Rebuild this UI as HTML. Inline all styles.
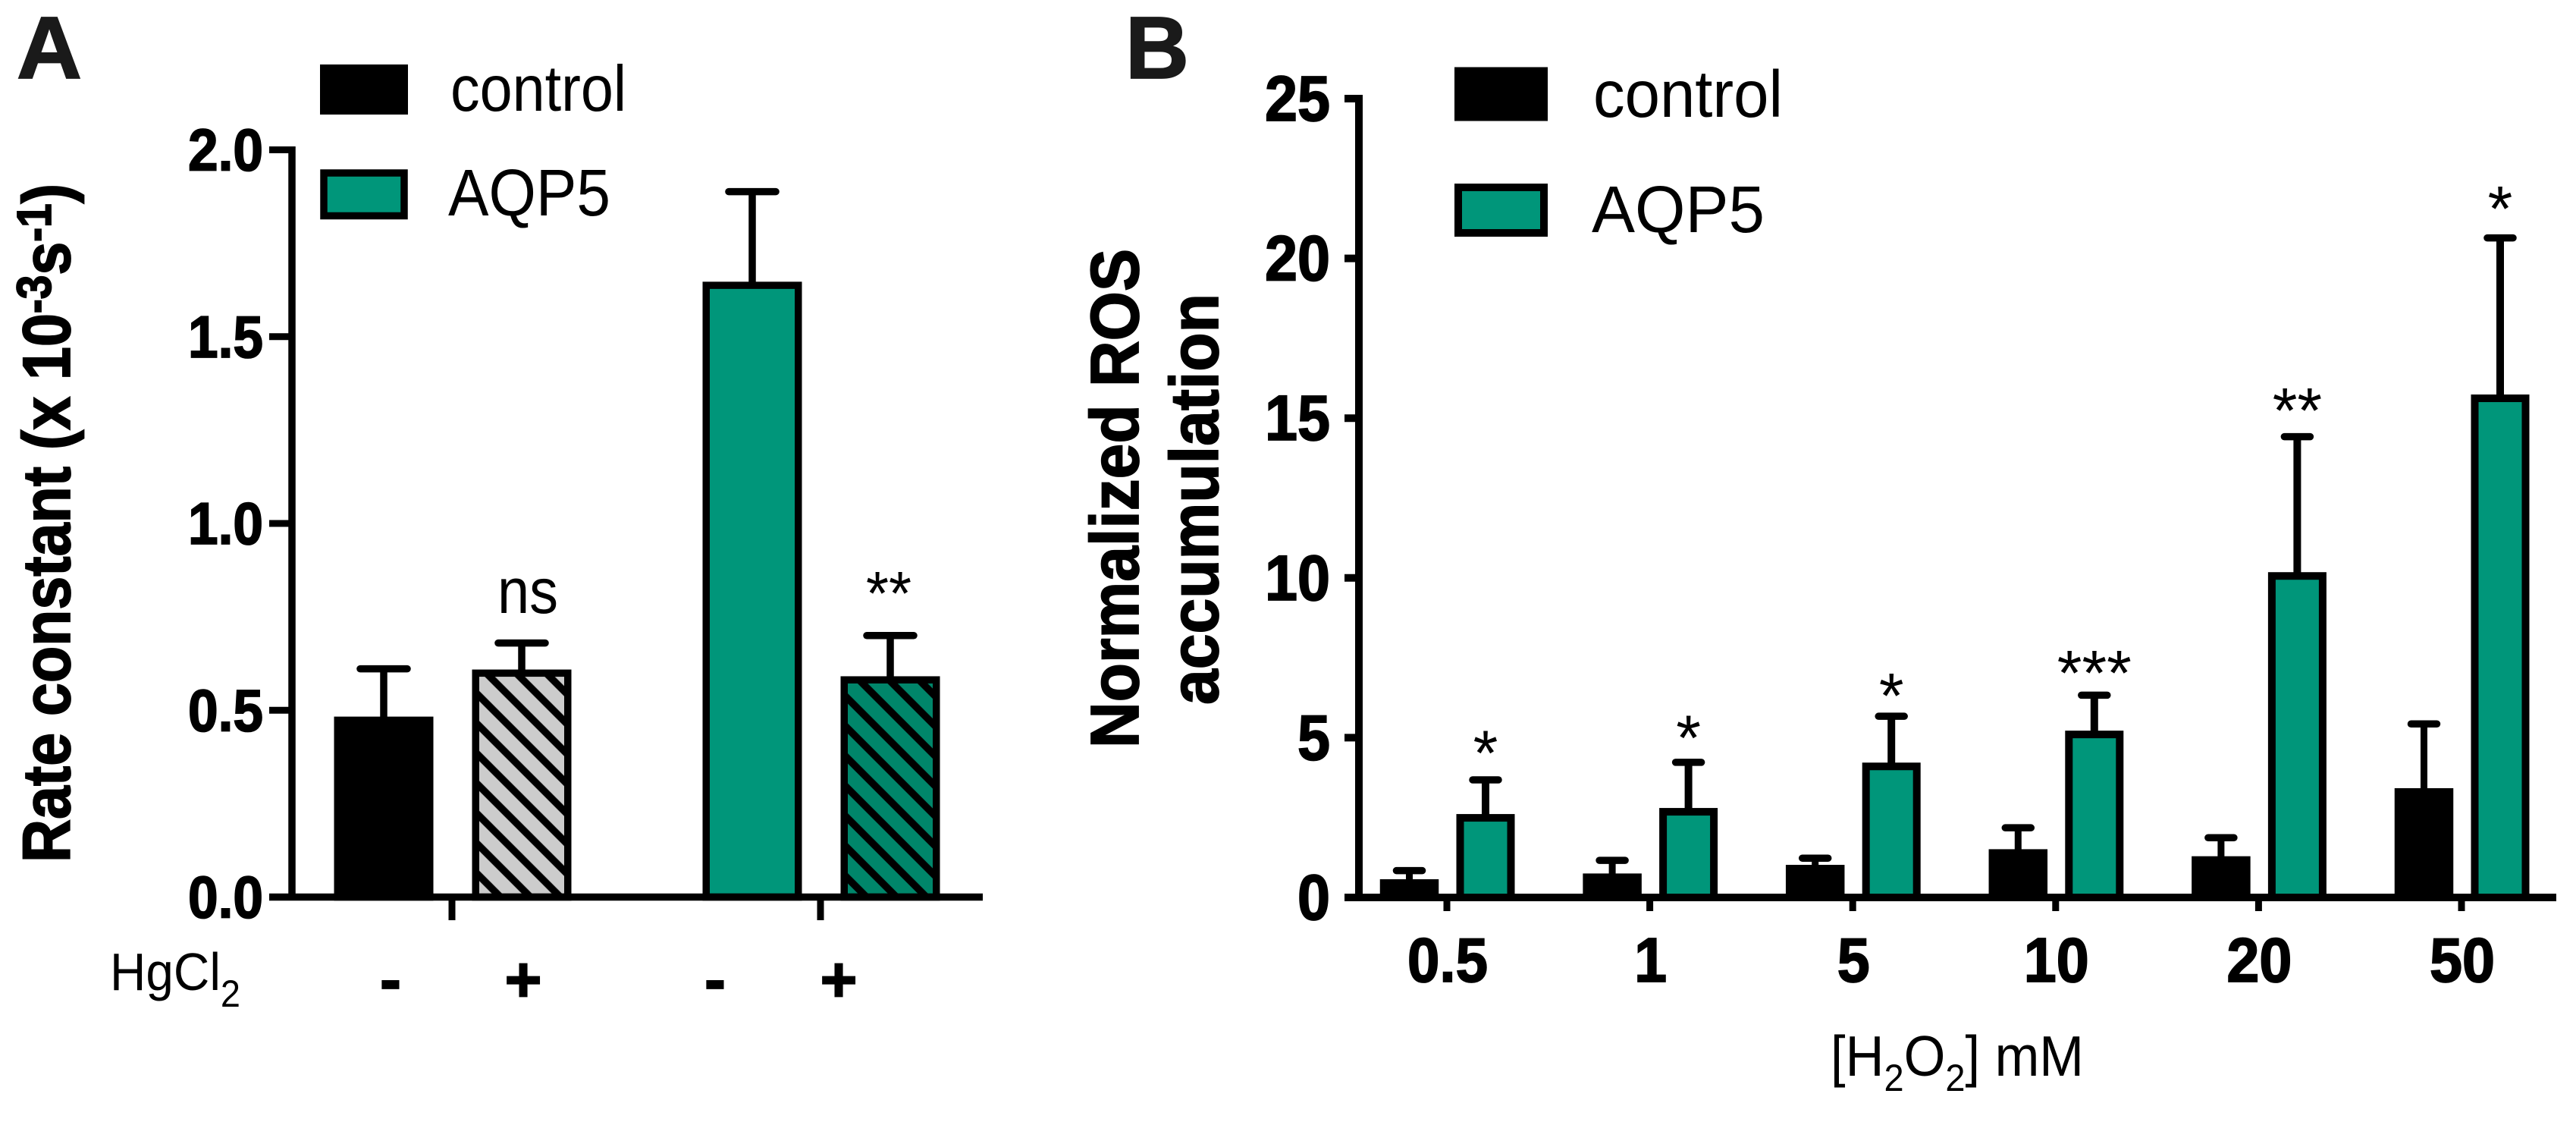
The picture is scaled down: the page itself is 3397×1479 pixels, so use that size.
<!DOCTYPE html>
<html lang="en">
<head>
<meta charset="utf-8">
<title>Rate constant and ROS accumulation bar charts</title>
<style>
html,body{margin:0;padding:0;background:#fff;width:3397px;height:1479px;overflow:hidden}
svg{display:block;font-family:"Liberation Sans",sans-serif}
text[font-weight="bold"]{stroke:#000;stroke-width:1.8px}
</style>
</head>
<body>
<svg id="figure" xmlns="http://www.w3.org/2000/svg" width="3397" height="1479" viewBox="0 0 3397 1479">
  <defs>
    <pattern id="hatch-gray" patternUnits="userSpaceOnUse" x="646.7" y="892.7" width="39.5" height="39.5">
      <rect width="39.5" height="39.5" fill="#cccccc"/>
      <path d="M-10,-10L49.5,49.5M-10,29.5L10,49.5M29.5,-10L49.5,10" stroke="#000" stroke-width="9.5"/>
    </pattern>
    <pattern id="hatch-teal" patternUnits="userSpaceOnUse" x="1136.7" y="900" width="39.5" height="39.5">
      <rect width="39.5" height="39.5" fill="#00866a"/>
      <path d="M-10,-10L49.5,49.5M-10,29.5L10,49.5M29.5,-10L49.5,10" stroke="#000" stroke-width="9.5"/>
    </pattern>
  </defs>

  <g id="panel-a">
    <text x="22" y="103" font-size="116" font-weight="bold" fill="#1a1a1a" style="stroke:#1a1a1a" textLength="86" lengthAdjust="spacingAndGlyphs">A</text>
    <text transform="translate(92,1137) rotate(-90)" font-size="89" font-weight="bold" fill="#000" textLength="895" lengthAdjust="spacingAndGlyphs">Rate constant (x 10<tspan dy="-25" font-size="64">-3</tspan><tspan dy="25">s</tspan><tspan dy="-25" font-size="64">-1</tspan><tspan dy="25">)</tspan></text>
    <g>
      <rect x="422" y="85" width="116" height="66" fill="#000"/>
      <text x="594" y="146" font-size="85" fill="#000" textLength="232" lengthAdjust="spacingAndGlyphs">control</text>
      <rect x="427" y="228" width="106" height="56.5" fill="#00967a" stroke="#000" stroke-width="9.5"/>
      <text x="591" y="284" font-size="87" fill="#000" textLength="214" lengthAdjust="spacingAndGlyphs">AQP5</text>
    </g>
    <g id="a-bars"></g>
    <g id="a-axes"></g>
    <text x="145" y="1305" font-size="70" fill="#000" textLength="172" lengthAdjust="spacingAndGlyphs">HgCl<tspan dy="22" font-size="50">2</tspan></text>
  </g>

  <g id="panel-b">
    <text x="1484" y="103" font-size="116" font-weight="bold" fill="#1a1a1a" style="stroke:#1a1a1a" textLength="84" lengthAdjust="spacingAndGlyphs">B</text>
    <text transform="translate(1501,986) rotate(-90)" font-size="90" font-weight="bold" fill="#000" textLength="658" lengthAdjust="spacingAndGlyphs">Normalized ROS</text>
    <text transform="translate(1606,929) rotate(-90)" font-size="90" font-weight="bold" fill="#000" textLength="542" lengthAdjust="spacingAndGlyphs">accumulation</text>
    <g>
      <rect x="1918" y="88.5" width="123" height="71" fill="#000"/>
      <text x="2101" y="154" font-size="87" fill="#000" textLength="250" lengthAdjust="spacingAndGlyphs">control</text>
      <rect x="1923" y="247" width="113" height="60" fill="#00967a" stroke="#000" stroke-width="10"/>
      <text x="2099" y="306" font-size="87" fill="#000" textLength="228" lengthAdjust="spacingAndGlyphs">AQP5</text>
    </g>
    <g id="b-bars"></g>
    <g id="b-axes"></g>
    <text x="2414" y="1418" font-size="75" fill="#000" textLength="334" lengthAdjust="spacingAndGlyphs">[H<tspan dy="20" font-size="50">2</tspan><tspan dy="-20">O</tspan><tspan dy="20" font-size="50">2</tspan><tspan dy="-20">] mM</tspan></text>
  </g>
</svg>
<script>
// Panel A data
const aTickLabels = ['0.0', '0.5', '1.0', '1.5', '2.0'];
const aTickValues = [0, 0.5, 1, 1.5, 2];
const aTreatments = ['-', '+', '-', '+'];
const aBarNames = ['control-no-hgcl2', 'control-hgcl2', 'aqp5-no-hgcl2', 'aqp5-hgcl2'];
const aValues = [0.483, 0.609, 1.647, 0.591];
const aErrorTops = [0.611, 0.680, 1.888, 0.700];
const aFills = ['#000000', 'url(#hatch-gray)', '#00967a', 'url(#hatch-teal)'];
const aSigLabels = ['', 'ns', '', '**'];
const aSigLevels = [0, 0.76, 0, 0.755];

// Panel B data
const bCategories = ['0.5', '1', '5', '10', '20', '50'];
const bTickLabels = ['0', '5', '10', '15', '20', '25'];
const bTickValues = [0, 5, 10, 15, 20, 25];
const bControl = [0.57, 0.75, 1.02, 1.51, 1.29, 3.42];
const bControlErr = [0.84, 1.16, 1.23, 2.18, 1.87, 5.43];
const bAqp5 = [2.61, 2.80, 4.22, 5.22, 10.18, 15.74];
const bAqp5Err = [3.68, 4.23, 5.67, 6.33, 14.42, 20.64];
const bSigLabels = ['*', '*', '*', '***', '**', '*'];
const bSigLevels = [4.66, 5.14, 6.46, 7.17, 15.38, 21.70];

const NS = 'http://www.w3.org/2000/svg';

// Axis functions
function yA(v) { return 1182.5 - 492.5 * v; }
function xAGroup(g) { return 597 + 486 * g; }
function xA(i) { return xAGroup(Math.floor(i / 2)) + (i % 2 ? 91 : -91); }
function yB(v) { return 1183 - 42.12 * v; }
function xBGroup(g) { return 1908 + 267.6 * g; }
function xB(g, s) { return xBGroup(g) + (s ? 51 : -49.5); }

function shape(parent, tag, name, props) {
  const el = document.createElementNS(NS, tag);
  
  
  for (const k in props) el.setAttribute(k, props[k]);
  parent.appendChild(el);
  return el;
}
function label(parent, name, str, props) {
  const el = shape(parent, 'text', name, props);
  el.textContent = str;
  return el;
}
function line(parent, name, x1, y1, x2, y2, w, cap) {
  return shape(parent, 'line', name, {x1, y1, x2, y2, stroke: '#000', 'stroke-width': w, 'stroke-linecap': cap || 'butt'});
}
function bar(parent, name, cx, width, yTop, yBase, fill, sw) {
  return shape(parent, 'rect', name, {
    x: cx - width / 2 + sw / 2,
    y: yTop + sw / 2,
    width: width - sw,
    height: yBase - yTop - sw / 2,
    fill: fill,
    stroke: '#000',
    'stroke-width': sw
  });
}
function errorBar(parent, name, cx, yFrom, yTo, capW, stemW) {
  line(parent, name + '-stem', cx, yFrom, cx, yTo, stemW);
  line(parent, name + '-cap', cx - capW / 2 + 4.5, yTo, cx + capW / 2 - 4.5, yTo, 9.5, 'round');
}

// Panel A
const aBars = document.getElementById('a-bars');
const aAxes = document.getElementById('a-axes');
aValues.forEach(function (v, i) {
  errorBar(aBars, 'error-bar-' + aBarNames[i], xA(i), yA(v) + 2, yA(aErrorTops[i]), 71, 9.5);
  bar(aBars, 'bar-' + aBarNames[i], xA(i), 131, yA(v), yA(0), aFills[i], 9.5);
  if (aSigLabels[i]) {
    const isStars = aSigLabels[i].charAt(0) === '*';
    label(aBars, 'significance-' + aBarNames[i], aSigLabels[i], {
      x: xA(i) + (isStars ? -2 : 8),
      y: yA(aSigLevels[i]),
      'font-size': isStars ? 82 : 84,
      'text-anchor': 'middle',
      fill: '#000',
      textLength: isStars ? 60 : 80,
      lengthAdjust: 'spacingAndGlyphs'
    });
  }
  label(aBars, 'hgcl2-sign-' + aBarNames[i], aTreatments[i], {
    x: [515, 690, 943, 1106][i],
    y: 1320,
    'font-size': 84,
    'font-weight': 'bold',
    'text-anchor': 'middle',
    fill: '#000'
  });
});
line(aAxes, 'y-axis-a', 385, yA(2) - 4.5, 385, yA(0), 9.5);
line(aAxes, 'x-axis-a', 355, yA(0), 1296, yA(0), 9.5);
aTickValues.forEach(function (v, i) {
  line(aAxes, 'y-tick-a-' + aTickLabels[i], 355, yA(v), 385, yA(v), 9);
  label(aAxes, 'y-tick-label-a-' + aTickLabels[i], aTickLabels[i], {
    x: 347,
    y: yA(v) + 27,
    'font-size': 78,
    'font-weight': 'bold',
    'text-anchor': 'end',
    fill: '#000',
    textLength: 99,
    lengthAdjust: 'spacingAndGlyphs'
  });
});
[0, 1].forEach(function (g) {
  line(aAxes, 'x-tick-a-' + g, xAGroup(g) - 1, yA(0), xAGroup(g) - 1, 1213, 9);
});

// Panel B
const bBars = document.getElementById('b-bars');
const bAxes = document.getElementById('b-axes');
bCategories.forEach(function (cat, g) {
  errorBar(bBars, 'error-bar-control-' + cat, xB(g, 0), yB(bControl[g]) + 2, yB(bControlErr[g]), 43, 9);
  bar(bBars, 'bar-control-' + cat, xB(g, 0), 77.5, yB(bControl[g]), yB(0), '#000000', 9);
  errorBar(bBars, 'error-bar-aqp5-' + cat, xB(g, 1), yB(bAqp5[g]) + 2, yB(bAqp5Err[g]), 43, 10);
  bar(bBars, 'bar-aqp5-' + cat, xB(g, 1), 77, yB(bAqp5[g]), yB(0), '#00967a', 10);
  label(bBars, 'significance-' + cat, bSigLabels[g], {
    x: xB(g, 1),
    y: yB(bSigLevels[g]) + 35,
    'font-size': 84,
    'text-anchor': 'middle',
    fill: '#000'
  });
  line(bAxes, 'x-tick-b-' + cat, xBGroup(g), yB(0), xBGroup(g), 1201, 9);
  label(bAxes, 'x-tick-label-b-' + cat, cat, {
    x: xBGroup(g) + 1,
    y: 1294,
    'font-size': 83,
    'font-weight': 'bold',
    'text-anchor': 'middle',
    fill: '#000',
    textLength: cat.length === 3 ? 106 : (cat.length === 2 ? 86 : 43),
    lengthAdjust: 'spacingAndGlyphs'
  });
});
line(bAxes, 'y-axis-b', 1792, yB(25) - 5, 1792, yB(0), 10);
line(bAxes, 'x-axis-b', 1773, yB(0), 3371, yB(0), 10);
bTickValues.forEach(function (v, i) {
  line(bAxes, 'y-tick-b-' + bTickLabels[i], 1773, yB(v), 1792, yB(v), 10);
  label(bAxes, 'y-tick-label-b-' + bTickLabels[i], bTickLabels[i], {
    x: 1754,
    y: yB(v) + 29,
    'font-size': 84,
    'font-weight': 'bold',
    'text-anchor': 'end',
    fill: '#000',
    textLength: bTickLabels[i].length === 2 ? 86 : 43,
    lengthAdjust: 'spacingAndGlyphs'
  });
});
</script>
</body>
</html>
